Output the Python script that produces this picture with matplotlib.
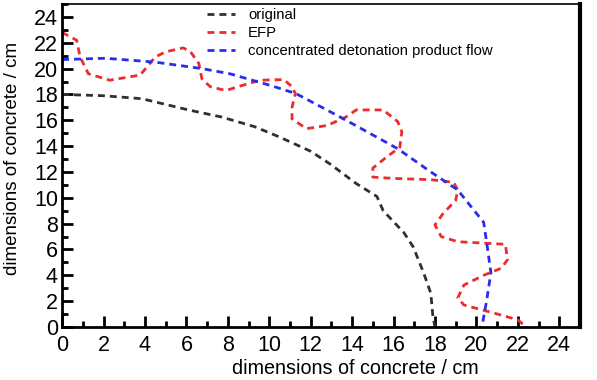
import matplotlib.pyplot as plt
from matplotlib.ticker import MultipleLocator

plt.rcParams["font.family"] = ["Liberation Sans", "DejaVu Sans"]

# original profile
orig_x = [0, 2, 3.85, 6.1, 7.7, 9.3, 10.5, 12.0, 12.95, 14.2, 15.2, 15.5, 16.5, 16.95, 17.45, 17.8, 17.9, 18.0]
orig_y = [18.0, 17.9, 17.67, 16.8, 16.25, 15.5, 14.7, 13.6, 12.6, 11.1, 10.1, 9.0, 7.3, 6.2, 4.2, 2.6, 0.8, 0.0]

# EFP profile
efp_x = [0, 0.7, 0.87, 1.27, 2.3, 3.77, 4.5, 5.0, 5.85, 6.2, 6.6, 6.75, 7.15, 7.9, 8.7, 9.57,
         10.7, 11.1, 11.26, 11.1, 11.1, 11.8, 12.8, 13.7, 14.2, 15.5, 16.2, 16.4, 16.3, 15.7,
         15.0, 15.0, 16.0, 17.8, 18.9, 19.1, 19.0, 18.4, 18.0, 18.3, 19.1, 21.4, 21.5, 21.2,
         20.35, 19.4, 19.1, 19.4, 20.8, 22.0, 22.4]
efp_y = [22.8, 22.2, 20.9, 19.6, 19.1, 19.5, 20.9, 21.3, 21.6, 21.3, 20.4, 19.2, 18.6, 18.3, 18.7, 19.1,
         19.15, 18.6, 18.06, 17.0, 16.1, 15.35, 15.6, 16.25, 16.8, 16.8, 15.9, 15.1, 13.9, 13.2,
         12.3, 11.6, 11.5, 11.4, 11.2, 10.6, 9.8, 8.8, 7.9, 7.0, 6.6, 6.4, 5.2, 4.55,
         4.0, 3.25, 2.25, 1.7, 1.1, 0.55, 0.0]

# concentrated detonation product flow profile
conc_x = [0, 2.1, 4.5, 6.75, 8.1, 10.05, 11.3, 13.6, 16.2, 17.8, 19.1, 20.35, 20.5, 20.7, 20.5, 20.3, 20.2]
conc_y = [20.7, 20.8, 20.5, 20.0, 19.6, 18.7, 18.06, 16.1, 13.8, 12.0, 10.6, 8.1, 6.5, 4.2, 2.1, 0.3, 0.0]

fig = plt.figure(figsize=(5.97, 3.80), dpi=100)
ax = fig.add_axes([0.104, 0.1395, 0.8675, 0.85])

dash = (0, (2.5, 1.8))
ax.plot(orig_x, orig_y, color="#303030", lw=2, linestyle=dash, label="original")
ax.plot(efp_x, efp_y, color="#ee2b2b", lw=2, linestyle=dash, label="EFP")
ax.plot(conc_x, conc_y, color="#2b2bee", lw=2, linestyle=dash, label="concentrated detonation product flow")

ax.set_xlim(0, 25)
ax.set_ylim(0, 25)
ax.xaxis.set_major_locator(MultipleLocator(2))
ax.xaxis.set_minor_locator(MultipleLocator(1))
ax.yaxis.set_major_locator(MultipleLocator(2))
ax.yaxis.set_minor_locator(MultipleLocator(1))
ax.tick_params(which="both", direction="in", top=False, right=False, width=2, labelsize=15.5)
ax.tick_params(axis="x", which="major", pad=5.5)
ax.tick_params(axis="y", which="major", pad=3)
ax.tick_params(which="major", length=8)
ax.tick_params(which="minor", length=4)

for s in ["left", "bottom"]:
    ax.spines[s].set_linewidth(2)
ax.spines["top"].set_linewidth(1.2)
ax.spines["right"].set_linewidth(3)

ax.set_xlabel("dimensions of concrete / cm", fontsize=14.2)
ax.set_ylabel("dimensions of concrete / cm", fontsize=13.5)
ax.xaxis.set_label_coords(0.566, -0.1)
ax.yaxis.set_label_coords(-0.079, 0.522)

ax.legend(loc="upper left", bbox_to_anchor=(207 / 597, 1 - 8 / 380), bbox_transform=fig.transFigure,
          frameon=False, fontsize=10.75, handlelength=1.88, labelspacing=0.28, handletextpad=0.87,
          borderpad=0, borderaxespad=0)

fig.savefig("out.png", dpi=100)
